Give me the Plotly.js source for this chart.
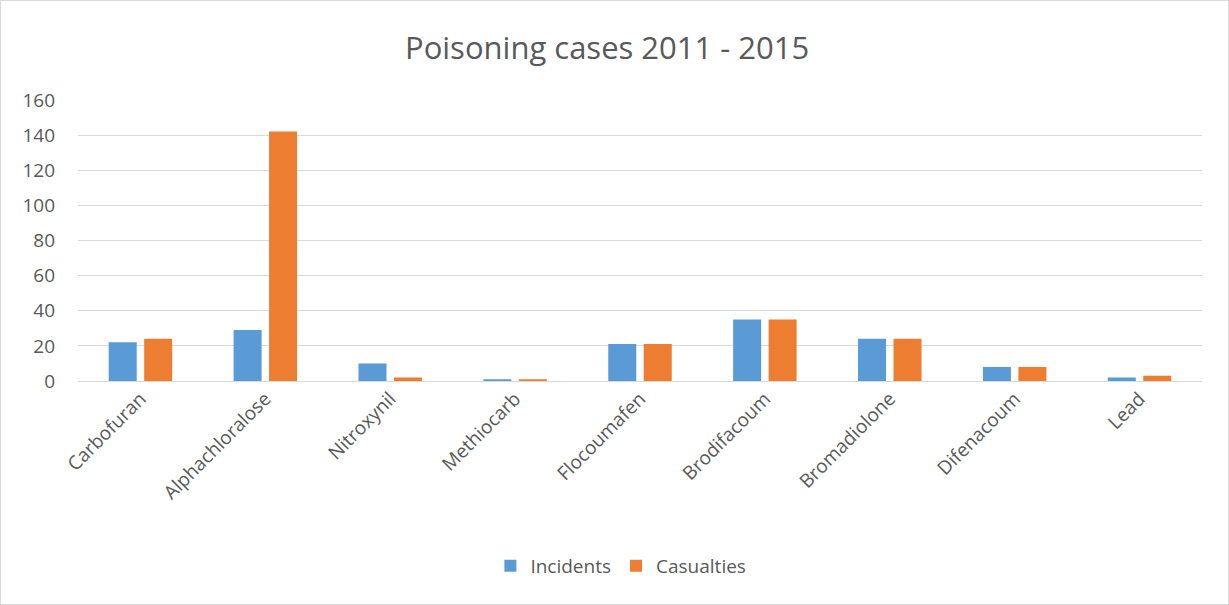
<!DOCTYPE html>
<html>
<head>
<meta charset="utf-8">
<script src="https://cdn.plot.ly/plotly-3.0.1.min.js"></script>
<style>
  html, body { margin: 0; padding: 0; background: #fff; }
  #chart { width: 1227px; height: 603px; border: 1px solid #d9d9d9; }
</style>
</head>
<body>
<div id="chart"></div>
<script>
const categories = ["Carbofuran", "Alphachloralose", "Nitroxynil", "Methiocarb", "Flocoumafen", "Brodifacoum", "Bromadiolone", "Difenacoum", "Lead"];
const incidents = [22, 29, 10, 1, 21, 35, 24, 8, 2];
const casualties = [24, 142, 2, 1, 21, 35, 24, 8, 3];
const yTicks = [0, 20, 40, 60, 80, 100, 120, 140, 160];

const font = "Open Sans, Liberation Sans, sans-serif";
const data = [
  { type: "bar", name: "Incidents", x: categories, y: incidents, marker: { color: "#5B9BD5" }, hoverinfo: "x+y" },
  { type: "bar", name: "Casualties", x: categories, y: casualties, marker: { color: "#ED7D31" }, hoverinfo: "x+y" }
];
const layout = {
  width: 1227, height: 603,
  margin: { l: 77, r: 26, t: 99, b: 223, pad: 0 },
  paper_bgcolor: "#fff", plot_bgcolor: "#fff",
  font: { family: font, color: "#595959", size: 19 },
  title: { text: "Poisoning cases 2011 - 2015", font: { family: font, size: 31, color: "#595959" }, x: 0.494, xanchor: "center", y: 0.922, yanchor: "middle" },
  barmode: "group", bargap: 0.432, bargroupgap: 0.21,
  xaxis: { type: "category", tickangle: -45, showgrid: false, showline: false, zeroline: false, ticks: "", ticklabelstandoff: 2, tickfont: { size: 19, color: "#595959" } },
  yaxis: { range: [0, 160], tickvals: yTicks, showgrid: true, gridcolor: "#d9d9d9", gridwidth: 1, zeroline: true, zerolinecolor: "#d9d9d9", zerolinewidth: 1, showline: false, ticks: "", ticklabelstandoff: 22, tickfont: { size: 19, color: "#595959" } },
  legend: { orientation: "h", xref: "paper", x: 0.483, xanchor: "center", y: -0.658, yanchor: "middle", font: { size: 19, color: "#595959" }, itemwidth: 30, tracegroupgap: 0 },
  showlegend: true
};
Plotly.newPlot("chart", data, layout, { displayModeBar: false, staticPlot: true });
</script>
</body>
</html>
